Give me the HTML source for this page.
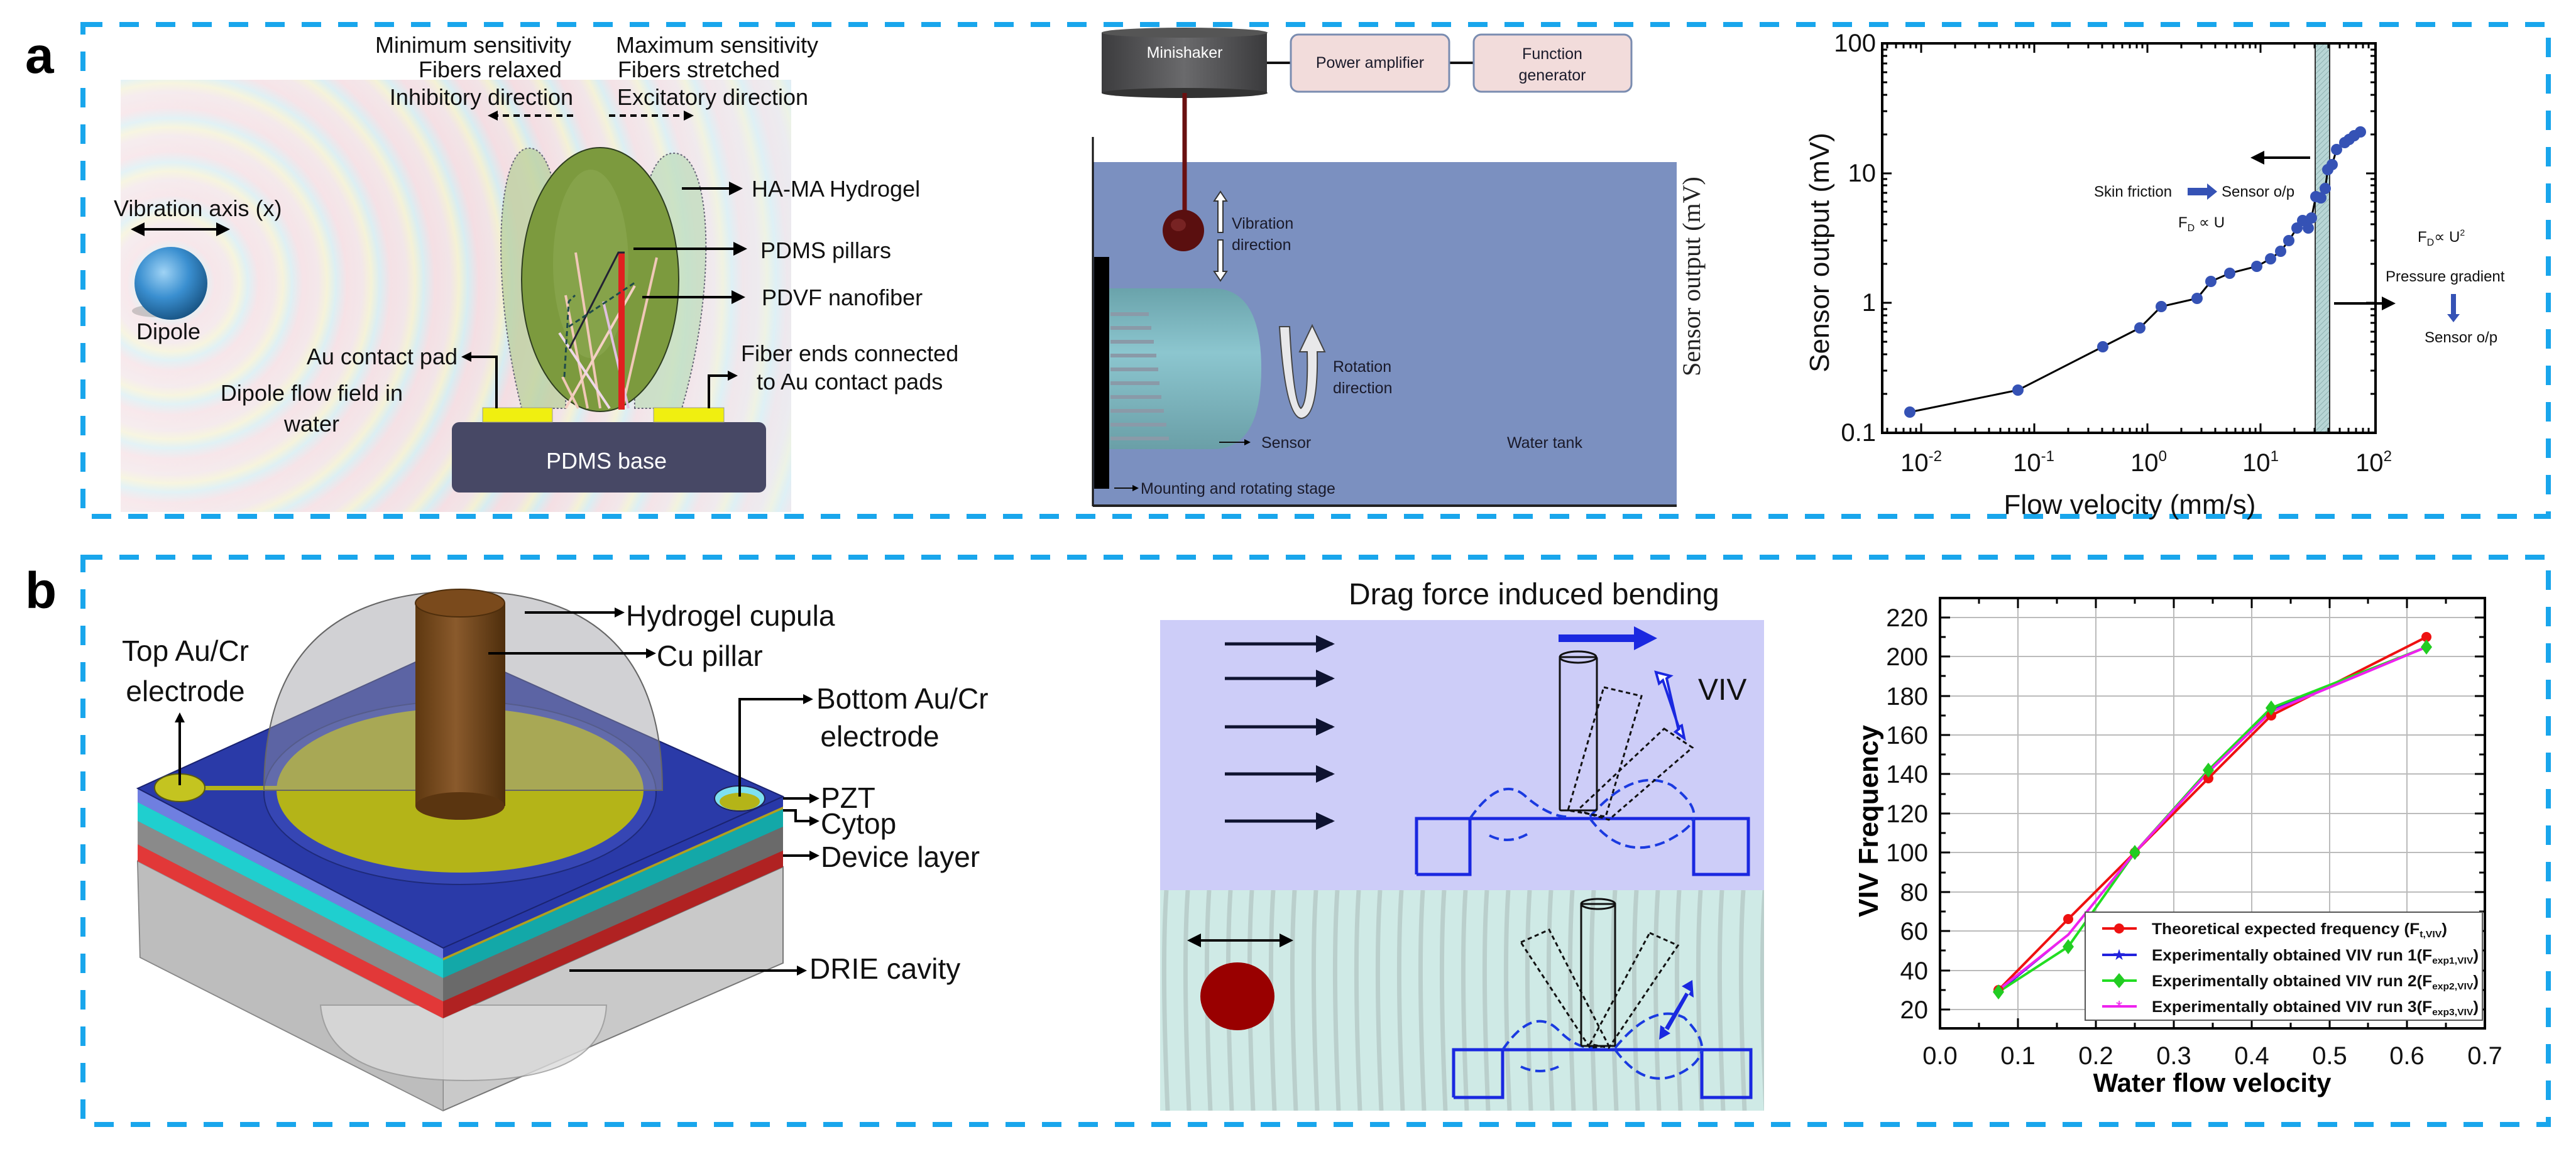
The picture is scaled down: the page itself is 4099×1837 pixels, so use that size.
<!DOCTYPE html>
<html><head><meta charset="utf-8">
<style>
html,body{margin:0;padding:0;background:#fff;}
svg{display:block;}
text{font-family:"Liberation Sans",sans-serif;}
.serif{font-family:"Liberation Serif",serif;}
</style></head>
<body>
<svg width="4099" height="1837" viewBox="0 0 4099 1837" xmlns="http://www.w3.org/2000/svg">
<defs>
  <radialGradient id="rings" cx="272" cy="451" r="70" gradientUnits="userSpaceOnUse" spreadMethod="repeat">
    <stop offset="0" stop-color="#f4dde2"/>
    <stop offset="0.35" stop-color="#f1e3e6"/>
    <stop offset="0.55" stop-color="#f3f0d2"/>
    <stop offset="0.75" stop-color="#d6ecf1"/>
    <stop offset="1" stop-color="#f4dde2"/>
  </radialGradient>
  <linearGradient id="fade" x1="0" x2="1" y1="0" y2="0">
    <stop offset="0" stop-color="#fff" stop-opacity="0.35"/>
    <stop offset="0.6" stop-color="#fff" stop-opacity="0"/>
    <stop offset="1" stop-color="#e6f4fa" stop-opacity="0.5"/>
  </linearGradient>
  <radialGradient id="sphere" cx="0.4" cy="0.35" r="0.7">
    <stop offset="0" stop-color="#9fd3f5"/>
    <stop offset="0.5" stop-color="#3a8fd0"/>
    <stop offset="1" stop-color="#16507f"/>
  </radialGradient>
  <linearGradient id="shaker" x1="0" x2="1">
    <stop offset="0" stop-color="#3c3c3e"/><stop offset="0.5" stop-color="#6a6a6c"/><stop offset="1" stop-color="#3a3a3c"/>
  </linearGradient>
  <linearGradient id="capsule" x1="0" x2="0" y1="0" y2="1">
    <stop offset="0" stop-color="#6aa3ab"/><stop offset="0.4" stop-color="#8cc6cf"/><stop offset="1" stop-color="#6a9fa7"/>
  </linearGradient>
  <linearGradient id="pillar" x1="0" x2="1">
    <stop offset="0" stop-color="#5e3810"/><stop offset="0.45" stop-color="#8a5a2c"/><stop offset="1" stop-color="#4e2e0c"/>
  </linearGradient>
  <pattern id="waves" x="1846" y="1417" width="34" height="351" patternUnits="userSpaceOnUse">
    <rect width="34" height="351" fill="#cfeae6"/>
    <path d="M10 0 Q2 120 12 351" stroke="#a9b7b6" stroke-width="7" fill="none" opacity="0.55"/>
  </pattern>
  <pattern id="hatch" width="6" height="6" patternUnits="userSpaceOnUse" patternTransform="rotate(45)">
    <rect width="6" height="6" fill="#b8d6d6"/><line x1="0" y1="0" x2="0" y2="6" stroke="#8fb2b2" stroke-width="2"/>
  </pattern>
  <marker id="ah" markerWidth="10" markerHeight="10" refX="8" refY="5" orient="auto" markerUnits="userSpaceOnUse" viewBox="0 0 10 10">
    <path d="M0 0 L10 5 L0 10 z" fill="#000"/></marker>
  <marker id="ahL" markerWidth="22" markerHeight="22" refX="18" refY="11" orient="auto" markerUnits="userSpaceOnUse">
    <path d="M0 0 L22 11 L0 22 z" fill="#000"/></marker>
  <marker id="ahN" markerWidth="30" markerHeight="28" refX="26" refY="14" orient="auto" markerUnits="userSpaceOnUse">
    <path d="M0 0 L30 14 L0 28 z" fill="#0e1330"/></marker>
  <marker id="ahB" markerWidth="16" markerHeight="16" refX="12" refY="8" orient="auto" markerUnits="userSpaceOnUse">
    <path d="M0 0 L16 8 L0 16 z" fill="#000"/></marker>
  <clipPath id="cA"><rect x="192" y="127" width="1067" height="688"/></clipPath>
</defs>

<!-- ===== dashed boxes ===== -->
<rect x="132" y="39" width="3923" height="783" fill="none" stroke="#19a6ec" stroke-width="8" stroke-dasharray="31 27"/>
<rect x="132" y="887" width="3923" height="903" fill="none" stroke="#19a6ec" stroke-width="8" stroke-dasharray="31 27"/>
<text x="40" y="116" font-size="82" font-weight="bold">a</text>
<text x="40" y="968" font-size="82" font-weight="bold">b</text>

<!-- ===== Panel a left ===== -->
<g clip-path="url(#cA)">
  <rect x="192" y="127" width="1067" height="688" fill="url(#rings)"/>
  <rect x="192" y="127" width="1067" height="688" fill="url(#fade)"/>
</g>
<ellipse cx="250" cy="495" rx="40" ry="10" fill="#888" opacity="0.4"/>
<circle cx="272" cy="451" r="58" fill="url(#sphere)"/>
<path d="M830 650 C780 450 790 240 840 236 C880 232 905 330 900 650 Z" fill="#b9cf9c" fill-opacity="0.75" stroke="#667" stroke-dasharray="3 3" stroke-width="2"/>
<path d="M1010 650 C1005 330 1030 240 1075 244 C1135 250 1140 460 1085 650 Z" fill="#bfdcbc" fill-opacity="0.75" stroke="#667" stroke-dasharray="3 3" stroke-width="2"/>
<ellipse cx="955" cy="445" rx="125" ry="210" fill="#7c9a3e" stroke="#2e3d20" stroke-width="2"/>
<ellipse cx="940" cy="420" rx="60" ry="150" fill="#8fab55" opacity="0.5"/>
<g stroke-width="4" fill="none">
  <line x1="916" y1="402" x2="955" y2="650" stroke="#f0c8b8"/>
  <line x1="900" y1="470" x2="935" y2="650" stroke="#f0c8b8"/>
  <line x1="1045" y1="410" x2="990" y2="650" stroke="#f0c8b8"/>
  <line x1="1010" y1="455" x2="900" y2="650" stroke="#f4d0c4"/>
  <line x1="890" y1="530" x2="970" y2="650" stroke="#eed8e8"/>
  <line x1="895" y1="600" x2="920" y2="650" stroke="#f0c8b8"/>
  <line x1="960" y1="480" x2="1000" y2="650" stroke="#e0c0e0"/>
</g>
<rect x="984" y="402" width="10" height="250" fill="#e02020"/>
<path d="M906 555 L984 402 L994 402" stroke="#223" stroke-width="3" fill="none"/>
<path d="M898 600 L905 480 L915 470" stroke="#1f4a4a" stroke-width="3" stroke-dasharray="8 5" fill="none"/>
<path d="M905 520 L1010 450" stroke="#1f4a4a" stroke-width="3" stroke-dasharray="8 5" fill="none"/>
<rect x="719" y="672" width="500" height="112" rx="12" fill="#3b4262"/>
<rect x="719" y="672" width="500" height="112" rx="12" fill="#6b5a70" opacity="0.25"/>
<rect x="768" y="649" width="111" height="23" fill="#f0ef10" stroke="#999" stroke-width="1"/>
<rect x="1040" y="649" width="112" height="23" fill="#f0ef10" stroke="#999" stroke-width="1"/>
<text x="965" y="746" font-size="36" fill="#fff" text-anchor="middle">PDMS base</text>

<g font-size="36" fill="#111">
<text x="753" y="84" text-anchor="middle">Minimum sensitivity</text>
<text x="780" y="123" text-anchor="middle">Fibers relaxed</text>
<text x="766" y="167" text-anchor="middle">Inhibitory direction</text>
<text x="1141" y="84" text-anchor="middle">Maximum sensitivity</text>
<text x="1112" y="123" text-anchor="middle">Fibers stretched</text>
<text x="1134" y="167" text-anchor="middle">Excitatory direction</text>
<text x="1196" y="313">HA-MA Hydrogel</text>
<text x="1210" y="411">PDMS pillars</text>
<text x="1212" y="486">PDVF nanofiber</text>
<text x="1179" y="575">Fiber ends connected</text>
<text x="1204" y="620">to Au contact pads</text>
<text x="728" y="580" text-anchor="end">Au contact pad</text>
<text x="496" y="638" text-anchor="middle">Dipole flow field in</text>
<text x="496" y="687" text-anchor="middle">water</text>
<text x="181" y="344">Vibration axis (x)</text>
<text x="268" y="540" text-anchor="middle">Dipole</text>
</g>
<g stroke="#000" stroke-width="4" fill="none">
  <line x1="912" y1="184" x2="780" y2="184" stroke-dasharray="10 7" marker-end="url(#ahB)"/>
  <line x1="969" y1="184" x2="1100" y2="184" stroke-dasharray="10 7" marker-end="url(#ahB)"/>
  <line x1="1085" y1="300" x2="1178" y2="300" marker-end="url(#ahL)"/>
  <line x1="1008" y1="396" x2="1185" y2="396" marker-end="url(#ahL)"/>
  <line x1="1022" y1="473" x2="1182" y2="473" marker-end="url(#ahL)"/>
  <path d="M790 650 L790 568 L738 568" marker-end="url(#ahB)"/>
  <path d="M1128 650 L1128 598 L1170 598" marker-end="url(#ahB)"/>
  <line x1="240" y1="365" x2="362" y2="365" marker-end="url(#ahL)"/>
  <line x1="330" y1="365" x2="212" y2="365" marker-end="url(#ahL)"/>
</g>

<!-- ===== Panel a middle ===== -->
<rect x="1739" y="258" width="929" height="546" fill="#7b90c0"/>
<line x1="1739" y1="218" x2="1739" y2="806" stroke="#111" stroke-width="3"/>
<line x1="1739" y1="805" x2="2668" y2="805" stroke="#222" stroke-width="4"/>
<rect x="1741" y="409" width="24" height="369" fill="#000"/>
<path d="M1765 459 L1930 459 Q2007 459 2007 587 Q2007 715 1930 715 L1765 715 Z" fill="url(#capsule)"/>
<g stroke="#8a9aa8" stroke-width="6">
  <line x1="1767" y1="500" x2="1828" y2="500"/><line x1="1767" y1="522" x2="1832" y2="522"/>
  <line x1="1767" y1="544" x2="1836" y2="544"/><line x1="1767" y1="566" x2="1840" y2="566"/>
  <line x1="1767" y1="588" x2="1843" y2="588"/><line x1="1767" y1="610" x2="1845" y2="610"/>
  <line x1="1767" y1="632" x2="1848" y2="632"/><line x1="1767" y1="654" x2="1852" y2="654"/>
  <line x1="1767" y1="676" x2="1856" y2="676"/><line x1="1767" y1="698" x2="1860" y2="698"/>
</g>
<path d="M1753 52 L2016 52 L2016 148 Q1885 160 1753 148 Z" fill="url(#shaker)"/>
<ellipse cx="1885" cy="52" rx="132" ry="8" fill="#555"/>
<ellipse cx="1885" cy="148" rx="132" ry="8" fill="#333"/>
<line x1="2016" y1="100" x2="2054" y2="100" stroke="#111" stroke-width="4"/>
<line x1="2306" y1="100" x2="2345" y2="100" stroke="#111" stroke-width="4"/>
<rect x="2054" y="55" width="252" height="91" rx="12" fill="#f2dcdb" stroke="#7a8cb0" stroke-width="3"/>
<rect x="2345" y="55" width="251" height="91" rx="12" fill="#f2dcdb" stroke="#7a8cb0" stroke-width="3"/>
<line x1="1885" y1="148" x2="1885" y2="345" stroke="#6a1010" stroke-width="7"/>
<ellipse cx="1883" cy="367" rx="33" ry="33" fill="#5a0f0f"/>
<ellipse cx="1875" cy="358" rx="12" ry="10" fill="#8a3030" opacity="0.6"/>
<g fill="#fff" stroke="#333" stroke-width="2">
  <path d="M1942 305 L1952 320 L1946 320 L1946 370 L1938 370 L1938 320 L1932 320 Z"/>
  <path d="M1942 447 L1952 432 L1946 432 L1946 382 L1938 382 L1938 432 L1932 432 Z"/>
</g>
<path d="M2036 520 L2052 520 Q2058 640 2070 650 Q2082 640 2080 560 L2068 560 L2088 518 L2108 560 L2096 560 Q2098 665 2070 666 Q2045 662 2036 520 Z" fill="#e8e8ea" stroke="#444" stroke-width="2"/>
<g font-size="25" fill="#1a1a2a">
<text x="1885" y="92" text-anchor="middle" fill="#fff">Minishaker</text>
<text x="2180" y="108" text-anchor="middle">Power amplifier</text>
<text x="2470" y="94" text-anchor="middle">Function</text>
<text x="2470" y="128" text-anchor="middle">generator</text>
<text x="1960" y="364">Vibration</text>
<text x="1960" y="398">direction</text>
<text x="2121" y="592">Rotation</text>
<text x="2121" y="626">direction</text>
<text x="2007" y="713">Sensor</text>
<text x="2398" y="713">Water tank</text>
<text x="1815" y="786">Mounting and rotating stage</text>
</g>
<line x1="1940" y1="704" x2="1988" y2="704" stroke="#111" stroke-width="2" marker-end="url(#ah)"/>
<line x1="1773" y1="777" x2="1810" y2="777" stroke="#111" stroke-width="2" marker-end="url(#ah)"/>
<text class="serif" transform="translate(2705,440) rotate(-90)" font-size="40" text-anchor="middle" fill="#222">Sensor output (mV)</text>

<!-- ===== Panel a right chart ===== -->
<rect x="3684" y="69" width="23" height="620" fill="url(#hatch)" stroke="#333" stroke-width="2"/>
<rect x="2995" y="69" width="785" height="620" fill="none" stroke="#000" stroke-width="4"/>
<path stroke="#000" stroke-width="3" fill="none" d="
M3003 689v-8M3017 689v-8M3029 689v-8M3040 689v-8M3049 689v-8
M3057 689v-15M3111 689v-8M3143 689v-8M3165 689v-8M3183 689v-8M3197 689v-8M3209 689v-8M3220 689v-8M3229 689v-8
M3237 689v-15M3291 689v-8M3323 689v-8M3345 689v-8M3363 689v-8M3377 689v-8M3389 689v-8M3400 689v-8M3409 689v-8
M3417 689v-15M3471 689v-8M3503 689v-8M3525 689v-8M3543 689v-8M3557 689v-8M3569 689v-8M3580 689v-8M3589 689v-8
M3597 689v-15M3651 689v-8M3683 689v-8M3705 689v-8M3723 689v-8M3737 689v-8M3749 689v-8M3760 689v-8M3769 689v-8
M3003 69v8M3017 69v8M3029 69v8M3040 69v8M3049 69v8
M3057 69v15M3111 69v8M3143 69v8M3165 69v8M3183 69v8M3197 69v8M3209 69v8M3220 69v8M3229 69v8
M3237 69v15M3291 69v8M3323 69v8M3345 69v8M3363 69v8M3377 69v8M3389 69v8M3400 69v8M3409 69v8
M3417 69v15M3471 69v8M3503 69v8M3525 69v8M3543 69v8M3557 69v8M3569 69v8M3580 69v8M3589 69v8
M3597 69v15M3651 69v8M3683 69v8M3705 69v8M3723 69v8M3737 69v8M3749 69v8M3760 69v8M3769 69v8
M2995 627h8M2995 590h8M2995 564h8M2995 544h8M2995 528h8M2995 514h8M2995 502h8M2995 492h8M2995 482h15
M2995 420h8M2995 383h8M2995 357h8M2995 337h8M2995 321h8M2995 307h8M2995 295h8M2995 285h8M2995 276h15
M2995 214h8M2995 177h8M2995 151h8M2995 131h8M2995 115h8M2995 101h8M2995 89h8M2995 79h8
M3780 627h-8M3780 590h-8M3780 564h-8M3780 544h-8M3780 528h-8M3780 514h-8M3780 502h-8M3780 492h-8M3780 482h-15
M3780 420h-8M3780 383h-8M3780 357h-8M3780 337h-8M3780 321h-8M3780 307h-8M3780 295h-8M3780 285h-8M3780 276h-15
M3780 214h-8M3780 177h-8M3780 151h-8M3780 131h-8M3780 115h-8M3780 101h-8M3780 89h-8M3780 79h-8"/>
<polyline fill="none" stroke="#000" stroke-width="3" points="3039,656 3211,621 3346,552 3405,522 3439,488 3496,475 3518,448 3548,435 3591,424 3613,412 3629,400 3642,383 3655,363 3664,351 3673,363 3678,347 3685,313 3693,315 3700,300 3704,270 3711,262 3718,238 3731,227 3738,222 3746,216 3756,210"/>
<g fill="#3552b5">
<circle cx="3039" cy="656" r="9"/><circle cx="3211" cy="621" r="9"/><circle cx="3346" cy="552" r="9"/><circle cx="3405" cy="522" r="9"/><circle cx="3439" cy="488" r="9"/><circle cx="3496" cy="475" r="9"/><circle cx="3518" cy="448" r="9"/><circle cx="3548" cy="435" r="9"/><circle cx="3591" cy="424" r="9"/><circle cx="3613" cy="412" r="9"/><circle cx="3629" cy="400" r="9"/><circle cx="3642" cy="383" r="9"/><circle cx="3655" cy="363" r="9"/><circle cx="3664" cy="351" r="9"/><circle cx="3673" cy="363" r="9"/><circle cx="3678" cy="347" r="9"/><circle cx="3685" cy="313" r="9"/><circle cx="3693" cy="315" r="9"/><circle cx="3700" cy="300" r="9"/><circle cx="3704" cy="270" r="9"/><circle cx="3711" cy="262" r="9"/><circle cx="3718" cy="238" r="9"/><circle cx="3731" cy="227" r="9"/><circle cx="3738" cy="222" r="9"/><circle cx="3746" cy="216" r="9"/><circle cx="3756" cy="210" r="9"/>
</g>
<g class="serif" font-size="40" fill="#111">
<text x="2985" y="82" text-anchor="end">100</text>
<text x="2985" y="289" text-anchor="end">10</text>
<text x="2985" y="495" text-anchor="end">1</text>
<text x="2985" y="702" text-anchor="end">0.1</text>
<text x="3057" y="750" text-anchor="middle">10<tspan font-size="24" dy="-16">-2</tspan></text>
<text x="3236" y="750" text-anchor="middle">10<tspan font-size="24" dy="-16">-1</tspan></text>
<text x="3419" y="750" text-anchor="middle">10<tspan font-size="24" dy="-16">0</tspan></text>
<text x="3597" y="750" text-anchor="middle">10<tspan font-size="24" dy="-16">1</tspan></text>
<text x="3777" y="750" text-anchor="middle">10<tspan font-size="24" dy="-16">2</tspan></text>
<text x="3389" y="818" text-anchor="middle" font-size="44">Flow velocity (mm/s)</text>
<text transform="translate(2910,402) rotate(-90)" text-anchor="middle" font-size="44">Sensor output (mV)</text>
</g>
<g font-size="24" fill="#111">
<text x="3332" y="313">Skin friction</text>
<text x="3535" y="313">Sensor o/p</text>
<text x="3466" y="362">F<tspan font-size="16" dy="6">D</tspan><tspan dy="-6"> ∝ U</tspan></text>
<text x="3847" y="385">F<tspan font-size="16" dy="6">D</tspan><tspan dy="-6">∝ U</tspan><tspan font-size="14" dy="-10">2</tspan></text>
<text x="3796" y="448">Pressure gradient</text>
<text x="3858" y="545">Sensor o/p</text>
</g>
<path d="M3481 299 L3512 299 L3512 292 L3528 305 L3512 318 L3512 311 L3481 311 Z" fill="#3552b5"/>
<path d="M3900 468 L3908 468 L3908 500 L3914 500 L3904 513 L3894 500 L3900 500 Z" fill="#3552b5"/>
<line x1="3676" y1="251" x2="3585" y2="251" stroke="#000" stroke-width="4" marker-end="url(#ahL)"/>
<line x1="3714" y1="483" x2="3808" y2="483" stroke="#000" stroke-width="4" marker-end="url(#ahL)"/>

<!-- ===== Panel b left device ===== -->
<path d="M219 1371 L705 1621 L1246 1380 L1246 1533 L705 1768 L223 1524 Z" fill="#c9c9c9" stroke="#777" stroke-width="2"/>
<path d="M705 1621 L705 1768" stroke="#888" stroke-width="2"/>
<path d="M219 1371 L705 1621 L705 1768 L223 1524 Z" fill="#b5b5b5" opacity="0.6"/>
<path d="M510 1600 Q520 1720 740 1720 Q960 1720 965 1600 Z" fill="#dcdcdc" opacity="0.8" stroke="#999" stroke-width="2"/>
<path d="M219 1255 L705 1509 L705 1621 L219 1371 Z" fill="#777"/>
<path d="M219 1255 L705 1509 L705 1527 L219 1277 Z" fill="#6f7fe0"/>
<path d="M219 1277 L705 1527 L705 1557 L219 1307 Z" fill="#1fcfcf"/>
<path d="M219 1307 L705 1557 L705 1594 L219 1344 Z" fill="#8a8a8a"/>
<path d="M219 1344 L705 1594 L705 1621 L219 1371 Z" fill="#e23838"/>
<path d="M705 1509 L1246 1268 L1246 1380 L705 1621 Z" fill="#666"/>
<path d="M705 1509 L1246 1268 L1246 1284 L705 1525 Z" fill="#2838a8"/>
<path d="M705 1525 L1246 1284 L1246 1288 L705 1529 Z" fill="#b0a020"/>
<path d="M705 1529 L1246 1288 L1246 1316 L705 1557 Z" fill="#13a8a8"/>
<path d="M705 1557 L1246 1316 L1246 1354 L705 1594 Z" fill="#6a6a6a"/>
<path d="M705 1594 L1246 1354 L1246 1380 L705 1621 Z" fill="#b02222"/>
<path d="M219 1255 L714 1030 L1246 1268 L705 1509 Z" fill="#2a3aa8" stroke="#1a2370" stroke-width="2"/>
<ellipse cx="732" cy="1262" rx="312" ry="146" fill="#3646b4" stroke="#1e2a7a" stroke-width="2"/>
<ellipse cx="732" cy="1258" rx="292" ry="131" fill="#b4b418"/>
<rect x="320" y="1251" width="122" height="7" fill="#b4b418"/>
<ellipse cx="286" cy="1254" rx="40" ry="22" fill="#c4c420" stroke="#5a5a10" stroke-width="2"/>
<ellipse cx="1177" cy="1271" rx="40" ry="20" fill="#7ee0f0" stroke="#225" stroke-width="2"/>
<ellipse cx="1177" cy="1276" rx="32" ry="14" fill="#b4b418"/>
<path d="M420 1258 Q420 941 737 941 Q1054 941 1054 1258 Z" fill="#9a9aa0" fill-opacity="0.45" stroke="#666" stroke-width="2"/>
<rect x="661" y="960" width="143" height="323" fill="url(#pillar)"/>
<ellipse cx="732" cy="1283" rx="71" ry="22" fill="#5a3510"/>
<ellipse cx="732" cy="960" rx="71" ry="22" fill="#7a4a1c" stroke="#4e2e0c" stroke-width="2"/>
<g stroke="#000" stroke-width="4" fill="none">
  <line x1="835" y1="975" x2="990" y2="975" marker-end="url(#ahB)"/>
  <line x1="777" y1="1040" x2="1040" y2="1040" marker-end="url(#ahB)"/>
  <line x1="286" y1="1250" x2="286" y2="1138" marker-end="url(#ahB)"/>
  <path d="M1177 1268 L1177 1113 L1290 1113" marker-end="url(#ahB)"/>
  <line x1="1246" y1="1271" x2="1300" y2="1271" marker-end="url(#ahB)"/>
  <path d="M1246 1290 L1266 1290 L1266 1307 L1300 1307" marker-end="url(#ahB)"/>
  <line x1="1246" y1="1362" x2="1300" y2="1362" marker-end="url(#ahB)"/>
  <line x1="906" y1="1545" x2="1280" y2="1545" marker-end="url(#ahB)"/>
</g>
<g font-size="46" fill="#111">
<text x="996" y="996">Hydrogel cupula</text>
<text x="1045" y="1060">Cu pillar</text>
<text x="295" y="1052" text-anchor="middle">Top Au/Cr</text>
<text x="295" y="1116" text-anchor="middle">electrode</text>
<text x="1299" y="1128">Bottom Au/Cr</text>
<text x="1400" y="1188" text-anchor="middle">electrode</text>
<text x="1306" y="1286">PZT</text>
<text x="1306" y="1327">Cytop</text>
<text x="1306" y="1380">Device layer</text>
<text x="1288" y="1558">DRIE cavity</text>
</g>

<!-- ===== Panel b middle ===== -->
<text x="2146" y="962" font-size="48" fill="#111">Drag force induced bending</text>
<rect x="1846" y="987" width="961" height="430" fill="#cdcdf8"/>
<rect x="1846" y="1417" width="961" height="351" fill="url(#waves)"/>
<g stroke="#0e1330" stroke-width="5">
  <line x1="1949" y1="1025" x2="2120" y2="1025" marker-end="url(#ahN)"/>
  <line x1="1949" y1="1080" x2="2120" y2="1080" marker-end="url(#ahN)"/>
  <line x1="1949" y1="1157" x2="2120" y2="1157" marker-end="url(#ahN)"/>
  <line x1="1949" y1="1232" x2="2120" y2="1232" marker-end="url(#ahN)"/>
  <line x1="1949" y1="1307" x2="2120" y2="1307" marker-end="url(#ahN)"/>
</g>
<path d="M2480 1010 L2600 1010 L2600 997 L2637 1016 L2600 1035 L2600 1022 L2480 1022 Z" fill="#1a28e0"/>
<g fill="none" stroke="#1a28e0" stroke-width="5">
  <path d="M2254 1392 L2254 1303 L2782 1303 L2782 1392 L2695 1392 L2695 1303 M2339 1303 L2339 1392 L2254 1392"/>
  <path d="M2313 1747 L2313 1671 L2786 1671 L2786 1747 L2708 1747 L2708 1671 M2391 1671 L2391 1747 L2313 1747"/>
</g>
<g fill="none" stroke="#1a3ae0" stroke-width="4" stroke-dasharray="16 8">
  <path d="M2339 1303 Q2390 1230 2430 1270 Q2470 1303 2500 1300"/>
  <path d="M2530 1300 Q2600 1220 2660 1250 Q2700 1280 2695 1303"/>
  <path d="M2370 1330 Q2400 1345 2430 1328"/>
  <path d="M2530 1303 Q2580 1370 2650 1340 Q2690 1320 2695 1303"/>
  <path d="M2391 1671 Q2440 1600 2480 1640 Q2510 1671 2540 1668"/>
  <path d="M2570 1668 Q2630 1595 2680 1620 Q2710 1650 2708 1671"/>
  <path d="M2420 1698 Q2450 1712 2480 1698"/>
  <path d="M2570 1671 Q2620 1740 2680 1705 Q2705 1690 2708 1671"/>
</g>
<g fill="none" stroke="#111" stroke-width="3">
  <rect x="2482" y="1046" width="59" height="244" rx="2"/>
  <ellipse cx="2511" cy="1046" rx="29" ry="9"/>
  <g stroke-dasharray="7 5">
    <path d="M2552 1094 L2612 1108 L2555 1300 L2495 1290 Z"/>
    <path d="M2648 1160 L2693 1190 L2560 1305 L2510 1290 Z"/>
  </g>
  <rect x="2516" y="1439" width="54" height="226" rx="2"/>
  <ellipse cx="2543" cy="1439" rx="27" ry="8"/>
  <g stroke-dasharray="7 5">
    <path d="M2420 1500 L2465 1480 L2560 1665 L2530 1668 Z"/>
    <path d="M2625 1485 L2670 1505 L2560 1668 L2530 1662 Z"/>
  </g>
</g>
<g fill="#fff" stroke="#1a28e0" stroke-width="4">
  <path d="M2635 1070 L2640 1088 L2646 1083 L2672 1160 L2666 1165 L2680 1175 L2676 1155 L2670 1158 L2652 1080 L2658 1076 Z"/>
</g>
<path d="M2693 1560 L2676 1570 L2690 1578 L2655 1640 L2642 1632 L2640 1655 L2658 1645 L2648 1638 L2682 1580 L2695 1588 Z" fill="#1a28e0"/>
<text x="2702" y="1114" font-size="48" fill="#111">VIV</text>
<ellipse cx="1969" cy="1586" rx="59" ry="54" fill="#990000"/>
<g stroke="#111" stroke-width="4">
  <line x1="1930" y1="1497" x2="2054" y2="1497" marker-end="url(#ahL)"/>
  <line x1="2010" y1="1497" x2="1893" y2="1497" marker-end="url(#ahL)"/>
</g>

<!-- ===== Panel b right chart ===== -->
<path stroke="#bbb" stroke-width="2" fill="none" d="
M3211 952V1637M3335 952V1637M3459 952V1637M3583 952V1637M3707 952V1637M3830 952V1637
M3087 1607H3954M3087 1545H3954M3087 1482H3954M3087 1420H3954M3087 1357H3954M3087 1295H3954M3087 1232H3954M3087 1170H3954M3087 1108H3954M3087 1045H3954M3087 983H3954"/>
<rect x="3087" y="952" width="867" height="685" fill="none" stroke="#000" stroke-width="4"/>
<path stroke="#000" stroke-width="3" fill="none" d="
M3149 1637v-9M3211 1637v-16M3273 1637v-9M3335 1637v-16M3397 1637v-9M3459 1637v-16M3521 1637v-9M3583 1637v-16M3645 1637v-9M3707 1637v-16M3768 1637v-9M3830 1637v-16M3892 1637v-9
M3149 952v9M3211 952v16M3273 952v9M3335 952v16M3397 952v9M3459 952v16M3521 952v9M3583 952v16M3645 952v9M3707 952v16M3768 952v9M3830 952v16M3892 952v9
M3087 1607h16M3087 1576h9M3087 1545h16M3087 1513h9M3087 1482h16M3087 1451h9M3087 1420h16M3087 1389h9M3087 1357h16M3087 1326h9M3087 1295h16M3087 1264h9M3087 1232h16M3087 1201h9M3087 1170h16M3087 1139h9M3087 1108h16M3087 1076h9M3087 1045h16M3087 1014h9M3087 983h16
M3954 1607h-16M3954 1576h-9M3954 1545h-16M3954 1513h-9M3954 1482h-16M3954 1451h-9M3954 1420h-16M3954 1389h-9M3954 1357h-16M3954 1326h-9M3954 1295h-16M3954 1264h-9M3954 1232h-16M3954 1201h-9M3954 1170h-16M3954 1139h-9M3954 1108h-16M3954 1076h-9M3954 1045h-16M3954 1014h-9M3954 983h-16"/>
<polyline fill="none" stroke="#ee1111" stroke-width="4" points="3180,1576 3291,1463 3397,1357 3514,1239 3614,1139 3861,1014"/>
<polyline fill="none" stroke="#2222dd" stroke-width="3" points="3180,1579 3291,1488 3397,1357 3514,1226 3614,1130 3861,1030"/>
<polyline fill="none" stroke="#22dd22" stroke-width="4" points="3180,1579 3291,1507 3397,1357 3514,1226 3614,1127 3861,1030"/>
<polyline fill="none" stroke="#ee22ee" stroke-width="4" points="3180,1576 3291,1488 3397,1357 3514,1229 3614,1133 3861,1030"/>
<g fill="#ee1111">
<circle cx="3180" cy="1576" r="8"/><circle cx="3291" cy="1463" r="8"/><circle cx="3397" cy="1357" r="8"/><circle cx="3514" cy="1239" r="8"/><circle cx="3614" cy="1139" r="8"/><circle cx="3861" cy="1014" r="8"/>
</g>
<g fill="#22cc22">
<path d="M3291 1495 l9 12 l-9 12 l-9 -12z"/><path d="M3514 1214 l9 12 l-9 12 l-9 -12z"/><path d="M3614 1115 l9 12 l-9 12 l-9 -12z"/><path d="M3861 1018 l9 12 l-9 12 l-9 -12z"/><path d="M3180 1567 l9 12 l-9 12 l-9 -12z"/><path d="M3397 1345 l9 12 l-9 12 l-9 -12z"/>
</g>
<rect x="3318" y="1452" width="632" height="172" fill="#fff" stroke="#555" stroke-width="2"/>
<line x1="3345" y1="1478" x2="3400" y2="1478" stroke="#ee1111" stroke-width="4"/><circle cx="3372" cy="1478" r="8" fill="#ee1111"/>
<line x1="3345" y1="1520" x2="3400" y2="1520" stroke="#2222dd" stroke-width="4"/><text x="3372" y="1528" font-size="24" fill="#2222dd" text-anchor="middle">★</text>
<line x1="3345" y1="1561" x2="3400" y2="1561" stroke="#22dd22" stroke-width="4"/><path d="M3372 1549 l10 12 l-10 12 l-10 -12z" fill="#22cc22"/>
<line x1="3345" y1="1602" x2="3400" y2="1602" stroke="#ee22ee" stroke-width="4"/><text x="3372" y="1611" font-size="26" fill="#ee22ee" text-anchor="middle">*</text>
<g font-size="25" font-weight="bold" fill="#111">
<text x="3424" y="1487" textLength="470" lengthAdjust="spacingAndGlyphs">Theoretical expected frequency (F<tspan font-size="15" dy="5">t,VIV</tspan><tspan dy="-5">)</tspan></text>
<text x="3424" y="1529" textLength="520" lengthAdjust="spacingAndGlyphs">Experimentally obtained VIV run 1(F<tspan font-size="15" dy="5">exp1,VIV</tspan><tspan dy="-5">)</tspan></text>
<text x="3424" y="1570" textLength="520" lengthAdjust="spacingAndGlyphs">Experimentally obtained VIV run 2(F<tspan font-size="15" dy="5">exp2,VIV</tspan><tspan dy="-5">)</tspan></text>
<text x="3424" y="1611" textLength="520" lengthAdjust="spacingAndGlyphs">Experimentally obtained VIV run 3(F<tspan font-size="15" dy="5">exp3,VIV</tspan><tspan dy="-5">)</tspan></text>
</g>
<g font-size="40" fill="#111" text-anchor="end">
<text x="3068" y="997">220</text><text x="3068" y="1059">200</text><text x="3068" y="1122">180</text><text x="3068" y="1184">160</text><text x="3068" y="1246">140</text><text x="3068" y="1309">120</text><text x="3068" y="1371">100</text><text x="3068" y="1434">80</text><text x="3068" y="1496">60</text><text x="3068" y="1559">40</text><text x="3068" y="1621">20</text>
</g>
<g font-size="40" fill="#111" text-anchor="middle">
<text x="3087" y="1694">0.0</text><text x="3211" y="1694">0.1</text><text x="3335" y="1694">0.2</text><text x="3459" y="1694">0.3</text><text x="3583" y="1694">0.4</text><text x="3707" y="1694">0.5</text><text x="3830" y="1694">0.6</text><text x="3954" y="1694">0.7</text>
</g>
<text x="3520" y="1738" font-size="42" font-weight="bold" text-anchor="middle">Water flow velocity</text>
<text transform="translate(2988,1307) rotate(-90)" font-size="44" font-weight="bold" text-anchor="middle">VIV Frequency</text>
</svg>
</body></html>
